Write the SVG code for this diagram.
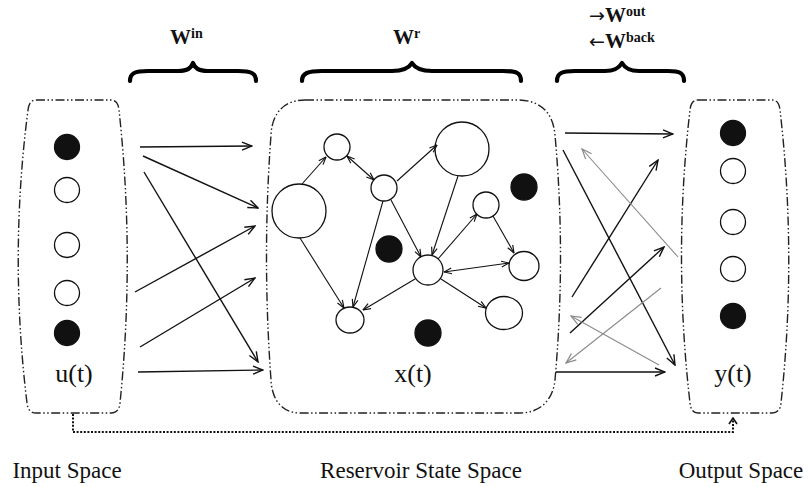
<svg xmlns="http://www.w3.org/2000/svg" width="808" height="487" viewBox="0 0 808 487">
  <style>
    .space { fill: none; stroke: #222; stroke-width: 1.4; stroke-dasharray: 9 2.5 1.5 2.5 1.5 2.5; }
    .node { fill: #fff; stroke: #111; stroke-width: 1.3; }
    .on { fill: #111; stroke: #111; stroke-width: 1.3; }
    .edge { fill: none; stroke: #111; stroke-width: 1.4; marker-end: url(#head); }
    .redge { fill: none; stroke: #111; stroke-width: 1.1; marker-end: url(#shead); }
    .both { marker-start: url(#shead); }
    .back { fill: none; stroke: #8a8a8a; stroke-width: 1.1; marker-end: url(#ghead); }
    .brace { fill: none; stroke: #000; stroke-width: 4.2; stroke-linecap: round; stroke-linejoin: round; }
    .var { font-family: "Liberation Serif", "Times New Roman", serif; font-size: 26px; fill: #111; text-anchor: middle; }
    .cap { font-family: "Liberation Serif", "Times New Roman", serif; font-size: 23px; fill: #111; text-anchor: middle; }
    .w { font-family: "Liberation Serif", "Times New Roman", serif; font-weight: bold; font-size: 21px; fill: #111; }
    .sup { font-size: 14px; }
    .dir { font-family: "DejaVu Sans", sans-serif; font-weight: normal; font-size: 19px; }
  </style>
  <defs>
    <marker id="head" viewBox="0 0 12 10" refX="11" refY="5" markerWidth="12" markerHeight="10" markerUnits="userSpaceOnUse" orient="auto-start-reverse">
      <path d="M1,1 L11,5 L1,9" fill="none" stroke="#111" stroke-width="1.4"/>
    </marker>
    <marker id="shead" viewBox="0 0 10 8" refX="9.5" refY="4" markerWidth="9" markerHeight="7.2" markerUnits="userSpaceOnUse" orient="auto-start-reverse">
      <path d="M1,0.8 L9.5,4 L1,7.2" fill="none" stroke="#111" stroke-width="1.3"/>
    </marker>
    <marker id="ghead" viewBox="0 0 12 10" refX="11" refY="5" markerWidth="12" markerHeight="10" markerUnits="userSpaceOnUse" orient="auto-start-reverse">
      <path d="M1,1 L11,5 L1,9" fill="none" stroke="#8a8a8a" stroke-width="1.2"/>
    </marker>
    <marker id="dhead" viewBox="0 0 10 8" refX="5" refY="1" markerWidth="10" markerHeight="8" markerUnits="userSpaceOnUse" orient="0">
      <path d="M1,7 L5,1 L9,7" fill="none" stroke="#111" stroke-width="1.6"/>
    </marker>
  </defs>

  <!-- weight braces and their labels -->
  <g id="weights">
    <path class="brace" d="M130,81 C130,73 135,71 148,71 L178,71 C188,71 191,68 193,63 C195,68 198,71 208,71 L238,71 C251,71 256,73 256,81"/>
    <text class="w" x="170" y="44">W<tspan class="sup" dy="-6">in</tspan></text>

    <path class="brace" d="M302,81 C302,73 308,71 322,71 L392,71 C404,71 409,68 412,63 C415,68 420,71 432,71 L503,71 C517,71 521,73 521,81"/>
    <text class="w" x="393" y="44">W<tspan class="sup" dy="-6">r</tspan></text>

    <path class="brace" d="M557,81 C557,73 562,71 575,71 L605,71 C615,71 619,68 622,63 C625,68 629,71 639,71 L668,71 C680,71 684,73 684,81"/>
    <text class="w" x="589" y="22"><tspan class="dir">→</tspan>W<tspan class="sup" dy="-6">out</tspan></text>
    <text class="w" x="589" y="48"><tspan class="dir">←</tspan>W<tspan class="sup" dy="-6">back</tspan></text>
  </g>

  <!-- input space -->
  <g id="input">
    <path class="space" d="M36,100 L111,100 Q118,100 119,110 Q135,256 120,403 Q119,413 111,413 L36,413 Q28,413 27,403 Q9,256 28,110 Q29,100 36,100 Z"/>
    <circle class="on" cx="67" cy="147" r="12.5"/>
    <circle class="node" cx="67" cy="190" r="12.5"/>
    <circle class="node" cx="67" cy="245" r="12.5"/>
    <circle class="node" cx="67" cy="293" r="12.5"/>
    <circle class="on" cx="67" cy="333" r="12.5"/>
    <text class="var" x="74" y="382">u(t)</text>
  </g>

  <!-- reservoir state space -->
  <g id="reservoir">
    <path class="space" d="M305,100 L517,100 C540,100 553,112 555,135 Q566,256 555,380 C553,400 540,413 520,413 L300,413 C282,413 272,400 271,380 Q262,256 271,135 C272,112 285,100 305,100 Z"/>
    <circle class="node" cx="337" cy="147" r="13"/>
    <circle class="node" cx="299" cy="211" r="27"/>
    <circle class="node" cx="384" cy="188" r="13"/>
    <circle class="node" cx="462" cy="149" r="27"/>
    <circle class="node" cx="486" cy="205" r="13"/>
    <circle class="on" cx="524" cy="187" r="13"/>
    <circle class="on" cx="389" cy="249" r="13"/>
    <circle class="node" cx="428" cy="270" r="15"/>
    <ellipse class="node" cx="524" cy="266" rx="15" ry="14.5"/>
    <ellipse class="node" cx="504" cy="313" rx="18.5" ry="16.5"/>
    <ellipse class="node" cx="350" cy="320" rx="14" ry="13"/>
    <circle class="on" cx="428" cy="333" r="13"/>
    <text class="var" x="413" y="382">x(t)</text>
  </g>

  <!-- output space -->
  <g id="output">
    <path class="space" d="M698,100 L772,100 Q779,100 780,110 Q797,256 781,403 Q780,413 772,413 L698,413 Q691,413 690,403 Q673,256 690,110 Q691,100 698,100 Z"/>
    <circle class="on" cx="733" cy="133" r="12.5"/>
    <circle class="node" cx="733" cy="171" r="12.5"/>
    <circle class="node" cx="733" cy="222" r="12.5"/>
    <circle class="node" cx="733" cy="269" r="12.5"/>
    <circle class="on" cx="733" cy="316" r="12.5"/>
    <text class="var" x="733" y="382">y(t)</text>
  </g>

  <!-- connectors -->
  <g id="connectors">
    <!-- input to reservoir -->
    <line class="edge" x1="140" y1="147" x2="252" y2="146"/>
    <line class="edge" x1="143" y1="156" x2="258" y2="208"/>
    <line class="edge" x1="144" y1="172" x2="258" y2="362"/>
    <line class="edge" x1="135" y1="292" x2="255" y2="226"/>
    <line class="edge" x1="140" y1="347" x2="255" y2="278"/>
    <line class="edge" x1="138" y1="372" x2="263" y2="370"/>

    <!-- internal reservoir links -->
    <line class="redge" x1="302" y1="184" x2="326" y2="157"/>
    <line class="redge both" x1="347" y1="156" x2="374" y2="180"/>
    <line class="redge" x1="397" y1="181" x2="437" y2="145"/>
    <line class="redge" x1="458" y1="176" x2="432" y2="255"/>
    <line class="redge" x1="391" y1="200" x2="421" y2="257"/>
    <line class="redge" x1="383" y1="201" x2="353" y2="307"/>
    <line class="redge" x1="300" y1="238" x2="344" y2="308"/>
    <line class="redge" x1="415" y1="279" x2="363" y2="310"/>
    <line class="redge" x1="438" y1="259" x2="477" y2="214"/>
    <line class="redge" x1="493" y1="216" x2="514" y2="253"/>
    <line class="redge both" x1="444" y1="272" x2="509" y2="263"/>
    <line class="redge" x1="441" y1="279" x2="486" y2="308"/>

    <!-- reservoir to output -->
    <line class="edge" x1="565" y1="133" x2="673" y2="134"/>
    <line class="edge" x1="563" y1="150" x2="675" y2="365"/>
    <line class="edge" x1="572" y1="297" x2="658" y2="160"/>
    <line class="edge" x1="570" y1="333" x2="664" y2="247"/>
    <line class="edge" x1="556" y1="372" x2="665" y2="372"/>

    <!-- output fed back into the reservoir -->
    <line class="back" x1="678" y1="257" x2="582" y2="149"/>
    <line class="back" x1="661" y1="288" x2="566" y2="363"/>
    <line class="back" x1="659" y1="365" x2="571" y2="316"/>

    <!-- direct input to output path -->
    <path d="M73,414 V432 H733 V418" fill="none" stroke="#111" stroke-width="2" stroke-dasharray="2 1.6" marker-end="url(#dhead)"/>
  </g>

  <!-- captions -->
  <text class="cap" x="67" y="478">Input Space</text>
  <text class="cap" x="421" y="478">Reservoir State Space</text>
  <text class="cap" x="741" y="478">Output Space</text>
</svg>
